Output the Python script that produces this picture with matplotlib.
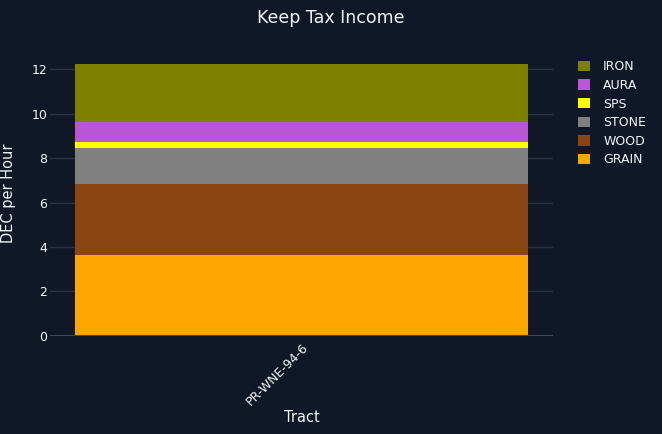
import matplotlib.pyplot as plt
from matplotlib.patches import Patch

# data
tract = ["PR-WNE-94-6"]
resources = ["GRAIN", "WOOD", "STONE", "SPS", "AURA", "IRON"]
values = [3.63, 3.20, 1.62, 0.27, 0.91, 2.60]
colors = ["#FFA500", "#8B4513", "#808080", "#FFFF00", "#BA55D3", "#808000"]

bg = "#101828"
fg = "#f2f5fa"
grid = "#283442"

fig = plt.figure(figsize=(6.62, 4.34), dpi=100, facecolor=bg)
ax = fig.add_axes([50/662, 1-335.7/434, 503/662, 285.7/434], facecolor=bg)

bottom = 0.0
for name, v, c in zip(resources, values, colors):
    ax.bar(tract, [v], bottom=[bottom], width=0.9, color=c, label=name, zorder=2)
    bottom += v

ax.set_xlim(-0.5, 0.5)
ax.set_ylim(0, bottom * 1.053)
ax.set_yticks(range(0, 13, 2))
ax.yaxis.grid(True, color=grid, linewidth=1, zorder=0)
ax.axhline(0, color="#3b4658", linewidth=1.5, zorder=3)
for s in ax.spines.values():
    s.set_visible(False)
ax.tick_params(axis="y", colors=fg, labelsize=9, length=0, pad=2)
ax.tick_params(axis="x", colors=fg, labelsize=9, length=0, pad=4)
plt.setp(ax.get_xticklabels(), rotation=45, ha="right", rotation_mode="anchor")

ax.set_xlabel("Tract", color=fg, fontsize=10.5)
ax.set_ylabel("DEC per Hour", color=fg, fontsize=10.5)
ax.xaxis.set_label_coords(0.5, -(418-335.7)/285.7)
ax.yaxis.set_label_coords(-(50-9)/503, 0.5)
ax.xaxis.label.set_va("center")
ax.yaxis.label.set_va("center")
fig.text(331/662, 1-18/434, "Keep Tax Income", color=fg, fontsize=12.5,
         ha="center", va="center")

handles = [Patch(facecolor=c, label=n) for n, c in zip(resources, colors)][::-1]
leg = fig.legend(handles=handles, loc="upper left", bbox_to_anchor=(567/662, 1-49/434),
                 frameon=False, fontsize=9, handlelength=0.9, handleheight=0.9,
                 handletextpad=1.1, labelspacing=0.45, labelcolor=fg)

fig.savefig("out.png", dpi=100, facecolor=bg)
